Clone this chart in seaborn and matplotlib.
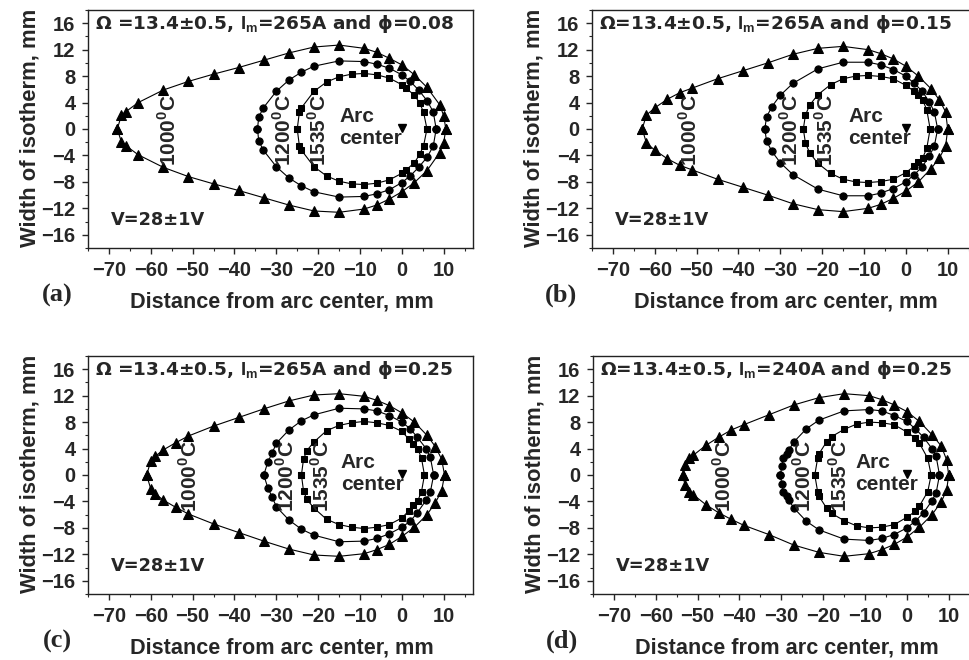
import matplotlib
matplotlib.use("Agg")
import matplotlib.pyplot as plt
import seaborn as sns
import pandas as pd

# ---------------- data ----------------
PANEL_TAGS = ["(a)", "(b)", "(c)", "(d)"]
PANEL_TITLES = [
    "Ω =13.4±0.5, $\\mathbf{I_m}$=265A and ϕ=0.08",
    "Ω=13.4±0.5, $\\mathbf{I_m}$=265A and ϕ=0.15",
    "Ω =13.4±0.5, $\\mathbf{I_m}$=265A and ϕ=0.25",
    "Ω=13.4±0.5, $\\mathbf{I_m}$=240A and ϕ=0.25",
]
VOLT_TEXT = "V=28±1V"
X_TICKS = [-70, -60, -50, -40, -30, -20, -10, 0, 10]
Y_TICKS = [-16, -12, -8, -4, 0, 4, 8, 12, 16]

# panel (a)
A_TRI_X = [-68, -67, -66, -63, -57, -51, -45, -39, -33, -27, -21, -15, -9, -6, -3, 0, 3, 6, 9, 10, 10.5]
A_TRI_YU = [0, 2.1, 2.6, 4.0, 5.9, 7.2, 8.3, 9.3, 10.4, 11.5, 12.4, 12.7, 12.2, 11.6, 10.7, 9.7, 8.2, 6.3, 3.7, 2.0, 0]
A_TRI_YL = [0, -2.0, -2.5, -3.9, -5.8, -7.2, -8.3, -9.3, -10.4, -11.5, -12.4, -12.6, -12.1, -11.5, -10.6, -9.5, -8.1, -6.3, -3.6, -2.1, 0]
A_CIR_X = [-34.5, -34.2, -33.1, -30, -27, -24, -21, -15, -9, -6, -3, 0, 2, 4, 6, 7.5, 8.2]
A_CIR_YU = [0, 1.8, 3.2, 5.7, 7.4, 8.6, 9.5, 10.3, 10.2, 9.8, 9.2, 8.2, 7.2, 5.9, 4.3, 2.6, 0]
A_CIR_YL = [0, -1.8, -3.2, -5.7, -7.4, -8.6, -9.5, -10.3, -10.2, -9.8, -9.2, -8.1, -7.1, -5.8, -4.3, -2.6, 0]
A_SQ_X = [-25, -24.5, -24, -21, -18, -15, -12, -9, -6, -3, 0, 1, 3, 4.3, 5.2, 6]
A_SQ_YU = [0, 2.5, 3.2, 5.7, 7.1, 7.9, 8.3, 8.4, 8.2, 7.7, 6.7, 6.2, 5.1, 3.9, 2.5, 0]
A_SQ_YL = [0, -2.5, -3.2, -5.7, -7.1, -7.9, -8.3, -8.4, -8.2, -7.7, -6.7, -6.2, -5.1, -3.8, -2.5, 0]

# panel (b)
B_TRI_X = [-63, -62, -60, -57, -54, -51, -45, -39, -33, -27, -21, -15, -9, -6, -3, 0, 3, 6, 8, 9.5, 10]
B_TRI_YU = [0, 2.1, 3.2, 4.5, 5.5, 6.2, 7.6, 8.8, 10.0, 11.3, 12.2, 12.5, 12.0, 11.4, 10.6, 9.5, 8.0, 6.1, 4.4, 2.6, 0]
B_TRI_YL = [0, -2.1, -3.2, -4.5, -5.5, -6.2, -7.6, -8.8, -10.0, -11.3, -12.2, -12.5, -12.0, -11.4, -10.5, -9.4, -8.0, -6.0, -4.4, -2.6, 0]
B_CIR_X = [-33.7, -33.3, -32, -30, -27, -21, -15, -9, -6, -3, 0, 2, 3.8, 5.6, 6.8, 7.6]
B_CIR_YU = [0, 1.8, 3.4, 5.1, 6.9, 9.1, 10.1, 10.1, 9.7, 9.0, 8.0, 6.9, 5.8, 4.1, 2.6, 0]
B_CIR_YL = [0, -1.8, -3.4, -5.1, -6.9, -9.1, -10.1, -10.1, -9.7, -9.0, -8.0, -6.9, -5.8, -4.1, -2.6, 0]
B_SQ_X = [-24.5, -24, -23, -21, -18, -15, -12, -9, -6, -3, 0, 2, 3, 4, 5, 5.8]
B_SQ_YU = [0, 2.1, 3.6, 5.2, 6.7, 7.6, 8.0, 8.1, 7.95, 7.6, 6.6, 5.7, 5.1, 4.4, 2.9, 0]
B_SQ_YL = [0, -2.1, -3.6, -5.2, -6.7, -7.6, -8.0, -8.1, -7.95, -7.6, -6.6, -5.6, -5.0, -4.4, -2.9, 0]

# panel (c)
C_TRI_X = [-61, -60, -59, -57, -54, -51, -45, -39, -33, -27, -21, -15, -9, -6, -3, 0, 3, 6, 8, 9.5, 10.2]
C_TRI_YU = [0, 2.1, 2.8, 3.8, 4.9, 5.9, 7.4, 8.7, 10.0, 11.2, 12.1, 12.3, 11.9, 11.3, 10.5, 9.4, 8.0, 6.0, 4.3, 2.4, 0]
C_TRI_YL = [0, -2.1, -2.8, -3.8, -4.9, -5.9, -7.4, -8.7, -10.0, -11.2, -12.1, -12.3, -11.9, -11.3, -10.5, -9.3, -7.9, -6.0, -4.2, -2.4, 0]
C_CIR_X = [-33, -32, -31, -30, -27, -24, -21, -15, -9, -6, -3, 0, 2, 3.7, 5.8, 6.8, 7.6]
C_CIR_YU = [0, 2.0, 3.3, 4.8, 6.8, 8.2, 9.1, 10.1, 10.0, 9.7, 9.0, 8.0, 7.0, 5.7, 4.0, 2.7, 0]
C_CIR_YL = [0, -2.0, -3.3, -4.8, -6.8, -8.2, -9.1, -10.1, -10.0, -9.6, -8.9, -7.9, -7.0, -5.7, -3.8, -2.6, 0]
C_SQ_X = [-24, -23.5, -22.7, -21, -18, -15, -12, -9, -6, -3, 0, 1.7, 2.7, 3.8, 4.7, 5.4]
C_SQ_YU = [0, 2.4, 3.7, 5.0, 6.7, 7.5, 7.9, 8.1, 7.9, 7.5, 6.6, 5.4, 4.7, 4.0, 2.5, 0]
C_SQ_YL = [0, -2.4, -3.7, -5.0, -6.7, -7.5, -7.9, -8.1, -7.9, -7.5, -6.5, -5.4, -4.6, -3.9, -2.5, 0]

# panel (d)
D_TRI_X = [-53.6, -53, -52, -51, -48, -45, -42, -39, -33, -27, -21, -15, -9, -6, -3, 0, 3, 6, 8.2, 9.5, 10]
D_TRI_YU = [0, 1.5, 2.5, 3.0, 4.5, 5.7, 6.8, 7.6, 9.1, 10.6, 11.7, 12.3, 12.0, 11.4, 10.6, 9.6, 8.1, 6.1, 4.4, 2.3, 0]
D_TRI_YL = [0, -1.5, -2.5, -3.0, -4.5, -5.7, -6.7, -7.6, -9.0, -10.6, -11.7, -12.3, -11.9, -11.3, -10.5, -9.4, -7.9, -6.0, -4.1, -2.3, 0]
D_CIR_X = [-30.2, -29.9, -29.5, -28.7, -28.2, -27, -24, -21, -15, -9, -6, -3, 0, 2, 4, 6, 7, 7.8]
D_CIR_YU = [0, 1.4, 2.5, 3.2, 3.8, 5.0, 7.0, 8.3, 9.7, 9.9, 9.7, 9.0, 8.1, 7.0, 5.7, 4.0, 2.8, 0]
D_CIR_YL = [0, -1.4, -2.5, -3.2, -3.8, -5.0, -7.0, -8.3, -9.7, -9.9, -9.6, -9.0, -8.0, -7.0, -5.7, -3.9, -2.7, 0]
D_SQ_X = [-22, -21.3, -21, -19.2, -18, -15, -12, -9, -6, -3, 0, 2, 3, 5, 5.8]
D_SQ_YU = [0, 2.6, 3.2, 5.0, 5.8, 6.9, 7.7, 8.0, 7.9, 7.6, 6.5, 5.6, 4.8, 2.5, 0]
D_SQ_YL = [0, -2.6, -3.2, -5.0, -5.8, -6.9, -7.7, -8.0, -7.9, -7.5, -6.4, -5.5, -4.7, -2.5, 0]

# isotherm label x positions per panel (1000, 1200, 1535 C) and arc-text x
LBL_1000_X = [-55.8, -51.8, -50.8, -43.8]
LBL_1200_X = [-28.3, -27.6, -27.5, -24.6]
LBL_1535_X = [-19.8, -19.2, -19.2, -16.2]
ARC_TEXT_X = [-14.9, -13.7, -14.6, -12.3]
ARC_CENTER = (0, 0)

# ---------------- figure ----------------
sns.set_theme(style="ticks")
plt.rcParams["font.family"] = ["Liberation Sans", "DejaVu Sans"]
plt.rcParams["mathtext.fontset"] = "custom"
plt.rcParams["mathtext.rm"] = "Liberation Sans"
plt.rcParams["mathtext.bf"] = "Liberation Sans:bold"

fig = plt.figure(figsize=(9.7, 6.6), dpi=100)
W, H = 970.0, 660.0

panels = [
    [(A_TRI_X, A_TRI_YU, A_TRI_YL), (A_CIR_X, A_CIR_YU, A_CIR_YL), (A_SQ_X, A_SQ_YU, A_SQ_YL)],
    [(B_TRI_X, B_TRI_YU, B_TRI_YL), (B_CIR_X, B_CIR_YU, B_CIR_YL), (B_SQ_X, B_SQ_YU, B_SQ_YL)],
    [(C_TRI_X, C_TRI_YU, C_TRI_YL), (C_CIR_X, C_CIR_YU, C_CIR_YL), (C_SQ_X, C_SQ_YU, C_SQ_YL)],
    [(D_TRI_X, D_TRI_YU, D_TRI_YL), (D_CIR_X, D_CIR_YU, D_CIR_YL), (D_SQ_X, D_SQ_YU, D_SQ_YL)],
]
markers = ["^", "o", "s"]
msizes = [6.5, 5.2, 5.0]

# pixel layout: (left, top) of each axes
origins = [(88, 10), (592, 10), (88, 356), (593, 356)]
ax_w, ax_h = 385, 238

for i, (ox, oy) in enumerate(origins):
    ax = fig.add_axes([ox / W, 1 - (oy + ax_h) / H, ax_w / W, ax_h / H])
    for (xs, yu, yl), m, ms in zip(panels[i], markers, msizes):
        df = pd.DataFrame({"x": list(xs) + list(xs)[::-1],
                           "y": list(yu) + list(yl)[::-1]})
        sns.lineplot(data=df, x="x", y="y", sort=False, estimator=None,
                     color="black", lw=0.8, marker=m, markersize=ms,
                     markeredgecolor="black", markerfacecolor="black", ax=ax)
    ax.plot([ARC_CENTER[0]], [ARC_CENTER[1] + 0.2], marker="v", color="black",
            markersize=6, ls="none")

    ax.set_xlim(-75, 17)
    ax.set_ylim(-18, 18)
    ax.set_xticks(X_TICKS)
    ax.set_yticks(Y_TICKS)
    ax.set_xticks(range(-75, 17, 5), minor=True)
    ax.set_yticks(range(-18, 19, 2), minor=True)
    ax.tick_params(which="major", direction="out", length=4, width=1, labelsize=14.5, pad=5)
    ax.tick_params(which="minor", direction="out", length=2.5, width=0.8)
    ax.tick_params(top=False, right=False, which="both")
    for lab in ax.get_xticklabels() + ax.get_yticklabels():
        lab.set_fontweight("bold")
    for sp in ax.spines.values():
        sp.set_visible(True)
        sp.set_linewidth(1.0)
        sp.set_color("#222222")
    ax.set_xlabel("")
    ax.set_ylabel("")

    # texts inside
    ax.text(-73.3, 15.9, PANEL_TITLES[i], fontsize=13.3, fontweight="bold",
            family=["DejaVu Sans"], va="center", ha="left")
    ax.text(-69.5, -13.8, VOLT_TEXT, fontsize=12.8, fontweight="bold",
            family=["DejaVu Sans"], va="center", ha="left")
    for lx, lt in ((LBL_1000_X[i], "1000"), (LBL_1200_X[i], "1200"), (LBL_1535_X[i], "1535")):
        ax.text(lx, -0.2, lt + "$^{\\mathbf{0}}$C", rotation=90, fontsize=15,
                fontweight="bold", ha="center", va="center")
    ax.text(ARC_TEXT_X[i], 1.9, "Arc", fontsize=15, fontweight="bold",
            ha="left", va="center")
    ax.text(ARC_TEXT_X[i], -1.5, "center", fontsize=15, fontweight="bold",
            ha="left", va="center")

    # axis labels and panel tags (figure positions)
    fig.text((ox + 194) / W, 1 - (oy + 292) / H, "Distance from arc center, mm",
             fontsize=15.6, fontweight="bold", ha="center", va="center")
    fig.text((ox - 58) / W, 1 - (oy + 118) / H, "Width of isotherm, mm",
             fontsize=15.8, fontweight="bold", ha="center", va="center", rotation=90)
    fig.text((ox - 31) / W, 1 - (oy + 285) / H, PANEL_TAGS[i], fontsize=19,
             fontweight="bold", family=["Liberation Serif"], ha="center", va="center")

fig.savefig("out.png", dpi=100)
